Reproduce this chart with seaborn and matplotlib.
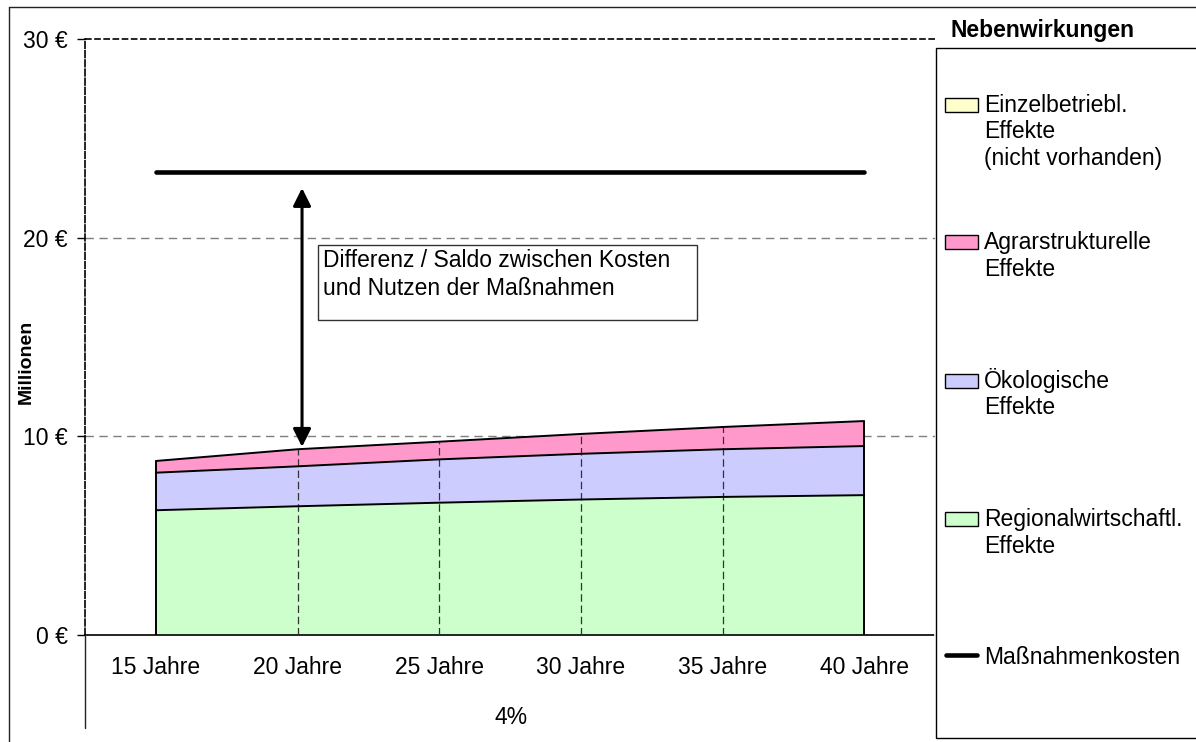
import numpy as np
import pandas as pd
import matplotlib
matplotlib.use("Agg")
import matplotlib.pyplot as plt
from matplotlib.patches import Rectangle
from matplotlib.lines import Line2D
import seaborn as sns

# ---- data (Mio. €) ----
laufzeiten = ["15 Jahre", "20 Jahre", "25 Jahre", "30 Jahre", "35 Jahre", "40 Jahre"]
regionalwirtschaftlich = [6.28, 6.48, 6.66, 6.82, 6.95, 7.04]
oekologisch = [1.89, 2.01, 2.18, 2.30, 2.40, 2.47]
agrarstrukturell = [0.59, 0.86, 0.89, 1.00, 1.12, 1.26]
einzelbetrieblich = [0.0, 0.0, 0.0, 0.0, 0.0, 0.0]
massnahmenkosten = [23.3, 23.3, 23.3, 23.3, 23.3, 23.3]
y_ticks = [0, 10, 20, 30]
y_ticklabels = ["0 €", "10 €", "20 €", "30 €"]
zinssatz = "4%"

series_names = ["Regionalwirtschaftl.\nEffekte", "Ökologische\nEffekte",
                "Agrarstrukturelle\nEffekte", "Einzelbetriebl.\nEffekte\n(nicht vorhanden)"]
series_values = [regionalwirtschaftlich, oekologisch, agrarstrukturell, einzelbetrieblich]
series_colors = ["#CCFFCC", "#CCCCFF", "#FF99CC", "#FFFFCC"]

sns.set_theme(style="white")
plt.rcParams["font.family"] = ["Liberation Sans", "DejaVu Sans"]
plt.rcParams["text.color"] = "black"
plt.rcParams["xtick.color"] = "black"
plt.rcParams["ytick.color"] = "black"
FS = 16.5

W, H = 1196, 742
fig = plt.figure(figsize=(W / 100, H / 100), dpi=100)
fig.patch.set_facecolor("white")

def fx(px):
    return px / W

def fy(py):
    return 1 - py / H

def multiline(x_px, base_px, text, step_px, **kw):
    """Write text line by line, first baseline at base_px (figure pixels)."""
    for i, line in enumerate(text.split("\n")):
        fig.text(fx(x_px), fy(base_px + i * step_px), line, fontsize=FS,
                 ha="left", va="baseline", **kw)

ax = fig.add_axes([fx(85), fy(635), fx(935) - fx(85), fy(39) - fy(635)])
ax.set_facecolor("white")

x = np.arange(len(laufzeiten))
df = pd.DataFrame({"x": x, "kosten": massnahmenkosten})

# stacked areas
lower = np.zeros(len(x))
levels = []
for vals, col in zip(series_values, series_colors):
    upper = lower + np.asarray(vals)
    ax.fill_between(x, lower, upper, facecolor=col, edgecolor="none", zorder=2)
    levels.append(upper.copy())
    lower = upper
total = lower

# interior category drop lines inside the area
ax.vlines(x[1:-1], 0, total[1:-1], colors="#333333", linewidth=0.9,
          linestyles=(0, (6, 3)), zorder=3)

# outline of each stack level
for lev in levels[:3]:
    sns.lineplot(x=x, y=lev, ax=ax, color="black", linewidth=1.4, zorder=4,
                 legend=False)
ax.vlines([x[0], x[-1]], 0, total[[0, -1]], colors="black", linewidth=1.4, zorder=4)

# cost line
sns.lineplot(data=df, x="x", y="kosten", ax=ax, color="black", linewidth=3.3,
             solid_capstyle="round", zorder=5, legend=False)

# horizontal gridlines
for yv in (10, 20):
    ax.axhline(yv, color="#7f7f7f", linewidth=1.0, linestyle=(0, (6, 4)), zorder=1)
ax.axhline(30, color="black", linewidth=1.2, linestyle=(0, (4, 1.5)), zorder=1, clip_on=False)

ax.set_xlim(-0.5, len(x) - 0.5)
ax.set_ylim(0, 30)
ax.set_yticks(y_ticks)
ax.set_yticklabels(y_ticklabels, fontsize=FS)
ax.set_xticks(x)
ax.set_xticklabels(laufzeiten, fontsize=FS)
ax.tick_params(axis="y", direction="out", length=5.8, width=1.0, color="black", pad=6.5, left=True)
ax.tick_params(axis="x", length=0, pad=15)
ax.set_xlabel("")
ax.set_ylabel("")

for s in ("top", "right"):
    ax.spines[s].set_visible(False)
ax.spines["left"].set_color("black")
ax.spines["left"].set_linewidth(1.2)
ax.spines["left"].set_linestyle((0, (4, 1.5)))
ax.spines["bottom"].set_color("black")
ax.spines["bottom"].set_linewidth(1.2)
ax.spines["bottom"].set_linestyle((0, (2, 1)))

# difference arrow and explanation box
ax.annotate("", xy=(1.032, 22.5), xytext=(1.032, 9.47),
            arrowprops=dict(arrowstyle="<|-|>,head_length=0.9,head_width=0.45",
                            color="black", lw=2.2, shrinkA=0, shrinkB=0), zorder=6)
ax.add_patch(Rectangle((1.147, 15.85), 3.818 - 1.147, 19.63 - 15.85, facecolor="white",
                       edgecolor="#333333", linewidth=1.0, zorder=6))
multiline(323.3, 266.7, "Differenz / Saldo zwischen Kosten\nund Nutzen der Maßnahmen", 28.3,
          zorder=7)

# group label under the categories
fig.text(fx(511), fy(717), zinssatz, fontsize=FS, ha="center", va="center")
fig.text(fx(26), fy(362), "Millionen", fontsize=14, fontweight="bold",
         rotation=90, ha="center", va="center")

# outer chart frame
fig.add_artist(Line2D([fx(9), 1.0], [fy(7), fy(7)], color="#222222", linewidth=1.0))
fig.add_artist(Line2D([fx(9), fx(9)], [fy(7), 0.0], color="#222222", linewidth=1.0))
fig.add_artist(Line2D([fx(85), fx(85)], [fy(635), fy(728)], color="#222222", linewidth=1.0))

# legend panel
fig.add_artist(Rectangle((fx(935.7), fy(737.7)), 1.01 - fx(935.7), fy(47.7) - fy(737.7),
                         transform=fig.transFigure, facecolor="white",
                         edgecolor="black", linewidth=1.0))
fig.text(fx(1042), fy(37), "Nebenwirkungen", fontsize=FS, fontweight="bold",
         ha="center", va="baseline")

legend_rows = [
    (series_names[3], series_colors[3], 111.7),
    (series_names[2], series_colors[2], 249.3),
    (series_names[1], series_colors[1], 387.7),
    (series_names[0], series_colors[0], 526.0),
]
for label, col, base in legend_rows:
    fig.add_artist(Rectangle((fx(945), fy(base)), fx(978) - fx(945), fy(base - 14) - fy(base),
                             transform=fig.transFigure, facecolor=col,
                             edgecolor="black", linewidth=1.0))
    multiline(984, base, label, 26.7)
fig.add_artist(Line2D([fx(946), fx(977)], [fy(655), fy(655)], color="black",
                      linewidth=3.3, solid_capstyle="round"))
multiline(984, 664, "Maßnahmenkosten", 26.7)

fig.savefig("out.png", dpi=100)
